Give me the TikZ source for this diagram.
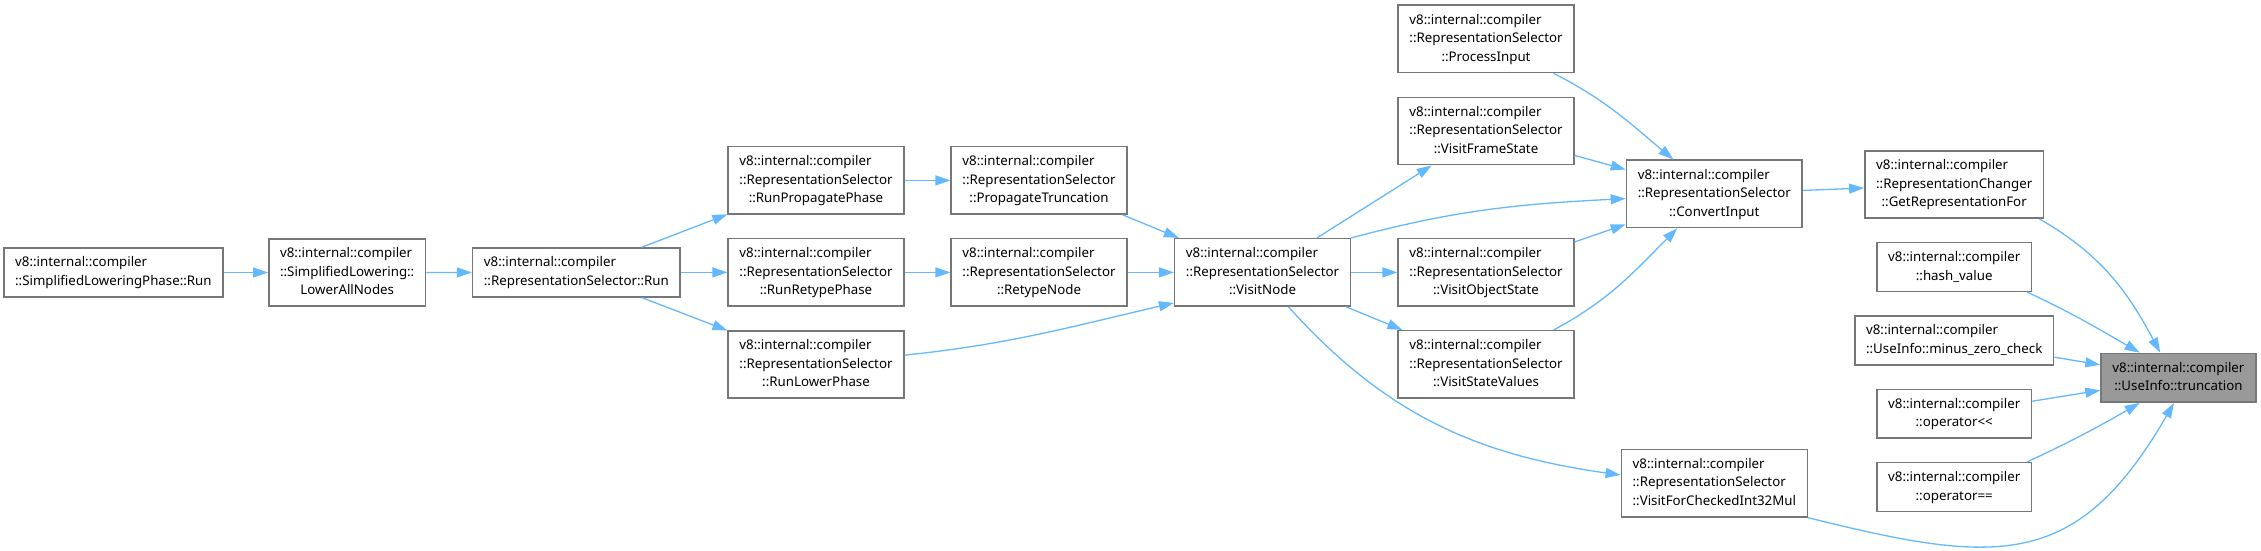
\documentclass[tikz,border=0pt]{standalone}
\usepackage{fontspec}
\setmainfont{Noto Sans}
\usepackage{tikz}
\usetikzlibrary{arrows.meta}
\definecolor{edgeblue}{HTML}{63B8FF}
\definecolor{boxgray}{HTML}{777777}
\definecolor{hlgray}{HTML}{999999}
\newcommand{\fnfont}{\fontsize{13.3}{18.6}\selectfont}
\newcommand{\twoln}[2]{\begin{tabular}{@{}l@{}}#1\\\multicolumn{1}{@{}c@{}}{#2}\end{tabular}}
\newcommand{\threeln}[3]{\begin{tabular}{@{}l@{}}#1\\#2\\\multicolumn{1}{@{}c@{}}{#3}\end{tabular}}
\tikzset{
  fn/.style={draw=boxgray,line width=1.5pt,fill=white,inner xsep=11.3pt,inner ysep=5.8pt,font=\fnfont},
  hl/.style={fn,fill=hlgray},
  call/.style={draw=edgeblue,line width=1.3pt,-{Triangle[length=15pt,width=10pt]}}
}

\begin{document}
\begin{tikzpicture}[x=1pt,y=1pt]
  \useasboundingbox (0,0) rectangle (2261,550);
  \node[fn] (slp) at (113.4,277.5) {\twoln{v8::internal::compiler}{::SimplifiedLoweringPhase::Run}};
  \node[fn] (lan) at (347.2,277.5) {\threeln{v8::internal::compiler}{::SimplifiedLowering::}{LowerAllNodes}};
  \node[fn] (rsrun) at (576.4,277.6) {\twoln{v8::internal::compiler}{::RepresentationSelector::Run}};
  \node[fn] (rpp) at (816,369.6) {\threeln{v8::internal::compiler}{::RepresentationSelector}{::RunPropagatePhase}};
  \node[fn] (rrp) at (816,277.6) {\threeln{v8::internal::compiler}{::RepresentationSelector}{::RunRetypePhase}};
  \node[fn] (rlp) at (816,185.5) {\threeln{v8::internal::compiler}{::RepresentationSelector}{::RunLowerPhase}};
  \node[fn] (pt) at (1039,369.6) {\threeln{v8::internal::compiler}{::RepresentationSelector}{::PropagateTruncation}};
  \node[fn] (rn) at (1039,277.6) {\threeln{v8::internal::compiler}{::RepresentationSelector}{::RetypeNode}};
  \node[fn] (vn) at (1262.5,277.6) {\threeln{v8::internal::compiler}{::RepresentationSelector}{::VisitNode}};
  \node[fn] (pi) at (1486,511.1) {\threeln{v8::internal::compiler}{::RepresentationSelector}{::ProcessInput}};
  \node[fn] (vfs) at (1486,419) {\threeln{v8::internal::compiler}{::RepresentationSelector}{::VisitFrameState}};
  \node[fn] (vos) at (1486,277.6) {\threeln{v8::internal::compiler}{::RepresentationSelector}{::VisitObjectState}};
  \node[fn] (vsv) at (1486,185.6) {\threeln{v8::internal::compiler}{::RepresentationSelector}{::VisitStateValues}};
  \node[fn] (ci) at (1714.3,356.1) {\threeln{v8::internal::compiler}{::RepresentationSelector}{::ConvertInput}};
  \node[fn] (vfc) at (1714.3,66.8) {\threeln{v8::internal::compiler}{::RepresentationSelector}{::VisitForCheckedInt32Mul}};
  \node[fn] (grf) at (1954.2,365.5) {\threeln{v8::internal::compiler}{::RepresentationChanger}{::GetRepresentationFor}};
  \node[fn] (hv) at (1954.2,283) {\twoln{v8::internal::compiler}{::hash\_value}};
  \node[fn] (mzc) at (1954.2,209.5) {\twoln{v8::internal::compiler}{::UseInfo::minus\_zero\_check}};
  \node[fn] (ol) at (1954.2,136.3) {\twoln{v8::internal::compiler}{::operator<{}<}};
  \node[fn] (oe) at (1954.2,63) {\twoln{v8::internal::compiler}{::operator==}};
  \node[hl] (tr) at (2178.4,172.2) {\twoln{v8::internal::compiler}{::UseInfo::truncation}};
  % callers
  \draw[call] (slp) -- (lan);
  \draw[call] (lan) -- (rsrun);
  \draw[call] (rsrun) -- (rpp);
  \draw[call] (rsrun) -- (rrp);
  \draw[call] (rsrun) -- (rlp);
  \draw[call] (rpp) -- (pt);
  \draw[call] (rrp) -- (rn);
  \draw[call] (pt) -- (vn);
  \draw[call] (rn) -- (vn);
  \draw[call] (rlp.6) to[out=6,in=193] (vn.199);
  \draw[call] (vn) -- (vfs);
  \draw[call] (vn.north east) to[out=15,in=183] (ci.183);
  \draw[call] (vn) -- (vos);
  \draw[call] (vn) -- (vsv);
  \draw[call] (vn.-53) to[out=-48,in=172] (vfc.175);
  \draw[call] (pi.-27) to[out=-27,in=140] (ci.140);
  \draw[call] (vfs) -- (ci);
  \draw[call] (vos) -- (ci);
  \draw[call] (vsv.27) to[out=28,in=225] (ci.223);
  \draw[call] (ci) -- (grf);
  \draw[call] (grf.-22) to[out=-30,in=118] (tr.126);
  \draw[call] (hv.-19) to[out=-25,in=150] (tr.147);
  \draw[call] (mzc) -- (tr);
  \draw[call] (ol) -- (tr);
  \draw[call] (oe.19) to[out=25,in=-150] (tr.213);
  \draw[call] (vfc.south east) to[out=-14,in=-120,looseness=1.3] (tr.-100);
\end{tikzpicture}
\end{document}
